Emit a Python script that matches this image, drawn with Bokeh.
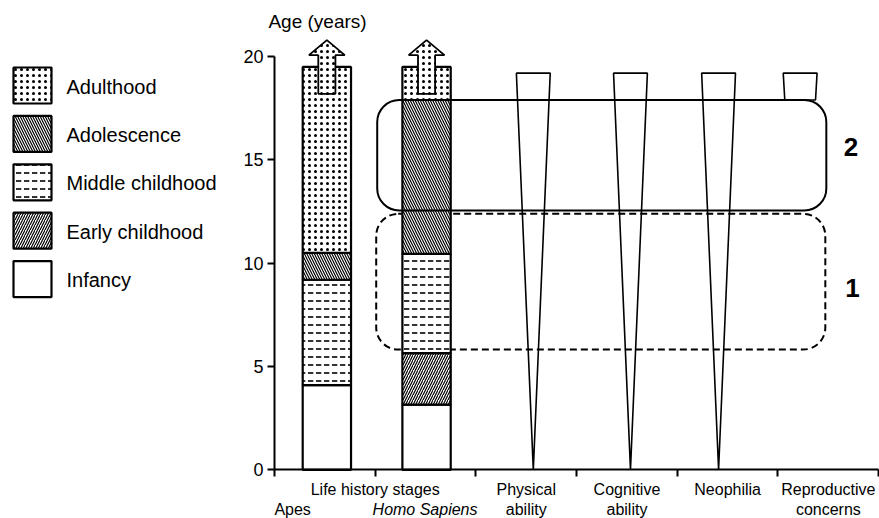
from bokeh.plotting import figure
from bokeh.layouts import row
from bokeh.models import ColumnDataSource, Range1d, FixedTicker, Label, BoxAnnotation
from bokeh.embed import file_html
from bokeh.resources import INLINE

FONT = "Liberation Sans"

# ---------------- data ----------------
species = ["Apes", "Homo Sapiens"]
species_x = [0.52, 1.51]
stages = ["Infancy", "Early childhood", "Middle childhood", "Adolescence", "Adulthood"]
apes_stage_end = [4.1, 4.1, 9.2, 10.5, 19.5]
homo_stage_end = [3.15, 5.65, 10.45, 17.9, 19.5]
arrow_from = [18.2, 18.2]
arrow_tip = [20.8, 20.8]

traits = ["Physical ability", "Cognitive ability", "Neophilia", "Reproductive concerns"]
trait_x = [2.57, 3.535, 4.41, 5.22]
trait_top = [19.2, 19.2, 19.2, 19.2]
trait_apex = [0.0, 0.0, 0.0, 5.0]
trait_visible_from = [0.0, 0.0, 0.0, 17.9]

phases = ["1", "2"]
phase_left = [1.01, 1.02]
phase_right = [5.47, 5.48]
phase_bottom = [5.82, 12.55]
phase_top = [12.39, 17.9]
phase_label_x = [5.74, 5.725]
phase_label_y = [8.8, 15.62]

y_ticks = [0, 5, 10, 15, 20]
x_ticks = [0, 1, 2, 3, 4, 5, 6]

# axis labels: (text, x, row, italic)
x_labels = [
    ("Apes", 0.18, 2, False),
    ("Life history stages", 1.0, 1, False),
    ("Homo Sapiens", 1.495, 2, True),
    ("Physical", 2.5, 1, False), ("ability", 2.5, 2, False),
    ("Cognitive", 3.5, 1, False), ("ability", 3.5, 2, False),
    ("Neophilia", 4.5, 1, False),
    ("Reproductive", 5.5, 1, False), ("concerns", 5.5, 2, False),
]

# ---------------- styles ----------------
hatch_of = {
    "Infancy": ("blank", 6, 1.0),
    "Early childhood": ("right_diagonal_line", 5, 1.2),
    "Middle childhood": ("horizontal_dash", 8, 1.6),
    "Adolescence": ("left_diagonal_line", 5, 1.2),
    "Adulthood": ("dot", 6, 1.6),
}
BAR_W = 0.48
SHAFT_HW = 0.085
HEAD_HW = 0.178
HEAD_LEN = 0.73
TRI_HW = 0.168

# ---------------- main figure ----------------
p = figure(width=651, height=518, x_range=Range1d(-0.4568, 6.008), y_range=Range1d(-2.357, 22.715),
           output_backend="svg", toolbar_location=None, min_border=0)
p.grid.visible = False
p.outline_line_color = None
p.background_fill_color = "white"

# dashed phase box 1 (behind bars), solid phase box 2
for i, ph in enumerate(phases):
    box = BoxAnnotation(left=phase_left[i], right=phase_right[i],
                        bottom=phase_bottom[i], top=phase_top[i],
                        fill_color=None, line_color="black", line_width=2,
                        line_alpha=1.0, border_radius=22,
                        line_dash="7 4" if ph == "1" else "solid",
                        level="underlay" if ph == "1" else "overlay")
    p.add_layout(box)

# stacked bars
bx, bb, bt, hp, hs, hw = [], [], [], [], [], []
for cx, ends in zip(species_x, [apes_stage_end, homo_stage_end]):
    prev = 0.0
    for st, e in zip(stages, ends):
        if e > prev:
            bx.append(cx); bb.append(prev); bt.append(e)
            pat, sc, wt = hatch_of[st]
            hp.append(pat); hs.append(sc); hw.append(wt)
        prev = e
bars = ColumnDataSource(dict(x=bx, bottom=bb, top=bt, hp=hp, hs=hs, hw=hw))
p.vbar(x="x", bottom="bottom", top="top", width=BAR_W, source=bars,
       fill_color="white", line_color="black", line_width=2.2,
       hatch_pattern="hp", hatch_scale="hs", hatch_weight="hw", hatch_color="black")

# arrows on top of bars
axs, ays = [], []
for cx, a0, tip in zip(species_x, arrow_from, arrow_tip):
    neck = tip - HEAD_LEN
    axs.append([cx - SHAFT_HW, cx - SHAFT_HW, cx - HEAD_HW, cx, cx + HEAD_HW, cx + SHAFT_HW, cx + SHAFT_HW])
    ays.append([a0, neck, neck, tip, neck, neck, a0])
pat, sc, wt = hatch_of["Adulthood"]
p.patches(xs=axs, ys=ays, fill_color="white", line_color="black", line_width=1.8,
          hatch_pattern=pat, hatch_scale=sc, hatch_weight=wt, hatch_color="black")

# trait wedges
txs, tys = [], []
for cx, top, apex, vis in zip(trait_x, trait_top, trait_apex, trait_visible_from):
    if vis <= apex:
        txs.append([cx - TRI_HW, cx + TRI_HW, cx])
        tys.append([top, top, apex])
    else:
        hw_v = TRI_HW * (vis - apex) / (top - apex)
        txs.append([cx - TRI_HW, cx + TRI_HW, cx + hw_v, cx - hw_v])
        tys.append([top, top, vis, vis])
p.patches(xs=txs, ys=tys, fill_color=None, line_color="black", line_width=1.6)

# phase numbers
for ph, lx, ly in zip(phases, phase_label_x, phase_label_y):
    p.add_layout(Label(x=lx, y=ly, text=ph, text_font=FONT, text_font_size="26px",
                       text_font_style="bold", text_align="center", text_baseline="middle",
                       text_color="black"))

# axes (drawn at fixed data location 0 inside the frame)
p.yaxis.ticker = FixedTicker(ticks=y_ticks)
p.yaxis.bounds = (0, 20)
p.yaxis.fixed_location = 0
p.xaxis.ticker = FixedTicker(ticks=x_ticks)
p.xaxis.bounds = (0, 6)
p.xaxis.fixed_location = 0
p.xaxis.major_label_overrides = {t: "" for t in x_ticks}
for ax in [p.xaxis, p.yaxis]:
    ax.axis_line_width = 2
    ax.axis_line_color = "black"
    ax.major_tick_line_width = 2
    ax.major_tick_line_color = "black"
    ax.major_tick_in = 0
    ax.major_tick_out = 7
    ax.minor_tick_line_color = None
    ax.major_label_text_font = FONT
    ax.major_label_text_font_size = "18px"
    ax.major_label_text_color = "black"
p.yaxis.major_label_standoff = 4

p.add_layout(Label(x=0.427, y=21.70, text="Age (years)", text_font=FONT, text_font_size="19px",
                   text_align="center", text_baseline="alphabetic", text_color="black"))

row_y = {1: -0.954, 2: -1.91}
for txt, lx, r, it in x_labels:
    p.add_layout(Label(x=lx, y=row_y[r], text=txt, text_font=FONT, text_font_size="16px",
                       text_font_style="italic" if it else "normal",
                       text_align="center", text_baseline="alphabetic", text_color="black"))

# ---------------- legend figure ----------------
lg = figure(width=228, height=518, x_range=Range1d(0, 228), y_range=Range1d(518, 0),
            output_backend="svg", toolbar_location=None, min_border=0,
            x_axis_type=None, y_axis_type=None)
lg.grid.visible = False
lg.outline_line_color = None

legend_order = stages[::-1]
LG_Y0, LG_STEP = 85.0, 48.4
ly_c = [LG_Y0 + i * LG_STEP for i in range(len(legend_order))]
lsrc = ColumnDataSource(dict(
    x=[32] * len(legend_order), y=ly_c,
    hp=[hatch_of[s][0] for s in legend_order],
    hs=[hatch_of[s][1] for s in legend_order],
    hw=[hatch_of[s][2] for s in legend_order]))
lg.rect(x="x", y="y", width=38, height=36, source=lsrc, fill_color="white",
        line_color="black", line_width=2.2, hatch_pattern="hp", hatch_scale="hs",
        hatch_weight="hw", hatch_color="black")
for s, yc in zip(legend_order, ly_c):
    lg.add_layout(Label(x=66, y=yc + 1, text=s, text_font=FONT, text_font_size="20px",
                        text_baseline="middle", text_align="left", text_color="black"))

layout = row(lg, p)
open("out.html", "w").write(file_html(layout, INLINE))
